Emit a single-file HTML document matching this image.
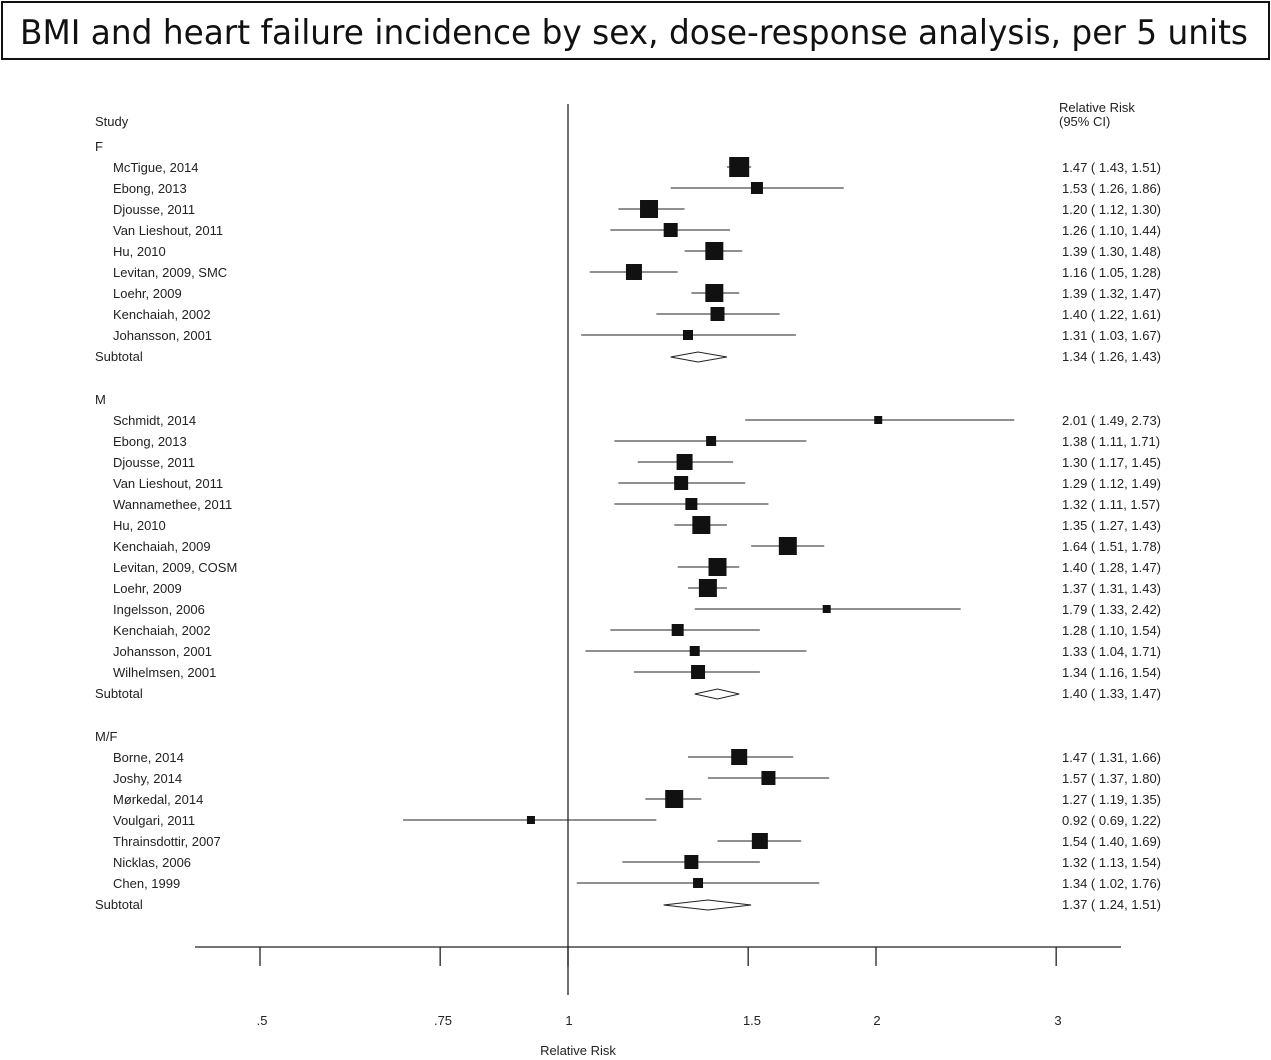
<!DOCTYPE html>
<html><head><meta charset="utf-8"><style>
body{margin:0;background:#fff;}
svg{display:block;font-family:"Liberation Sans",Arial,sans-serif;}
</style></head><body>
<svg id="s" width="1271" height="1060" viewBox="0 0 1271 1060">
<rect x="2" y="2" width="1267" height="57" fill="#fff" stroke="#111" stroke-width="2"/>
<text x="634" y="44" text-anchor="middle" font-family="DejaVu Sans,Verdana,sans-serif" font-size="34" textLength="1228" lengthAdjust="spacingAndGlyphs" fill="#111">BMI and heart failure incidence by sex, dose-response analysis, per 5 units</text>
<g id="plot" stroke="#222" fill="#111"></g>
<g font-size="13" fill="#222">
<text x="95" y="126">Study</text>
<text x="1059" y="112">Relative Risk</text>
<text x="1059" y="126">(95% CI)</text>
<text x="95" y="151">F</text>
<text x="113" y="172">McTigue, 2014</text><text x="1062" y="172">1.47 ( 1.43, 1.51)</text>
<text x="113" y="193">Ebong, 2013</text><text x="1062" y="193">1.53 ( 1.26, 1.86)</text>
<text x="113" y="214">Djousse, 2011</text><text x="1062" y="214">1.20 ( 1.12, 1.30)</text>
<text x="113" y="235">Van Lieshout, 2011</text><text x="1062" y="235">1.26 ( 1.10, 1.44)</text>
<text x="113" y="256">Hu, 2010</text><text x="1062" y="256">1.39 ( 1.30, 1.48)</text>
<text x="113" y="277">Levitan, 2009, SMC</text><text x="1062" y="277">1.16 ( 1.05, 1.28)</text>
<text x="113" y="298">Loehr, 2009</text><text x="1062" y="298">1.39 ( 1.32, 1.47)</text>
<text x="113" y="319">Kenchaiah, 2002</text><text x="1062" y="319">1.40 ( 1.22, 1.61)</text>
<text x="113" y="340">Johansson, 2001</text><text x="1062" y="340">1.31 ( 1.03, 1.67)</text>
<text x="95" y="361">Subtotal</text><text x="1062" y="361">1.34 ( 1.26, 1.43)</text>
<text x="95" y="404">M</text>
<text x="113" y="425">Schmidt, 2014</text><text x="1062" y="425">2.01 ( 1.49, 2.73)</text>
<text x="113" y="446">Ebong, 2013</text><text x="1062" y="446">1.38 ( 1.11, 1.71)</text>
<text x="113" y="467">Djousse, 2011</text><text x="1062" y="467">1.30 ( 1.17, 1.45)</text>
<text x="113" y="488">Van Lieshout, 2011</text><text x="1062" y="488">1.29 ( 1.12, 1.49)</text>
<text x="113" y="509">Wannamethee, 2011</text><text x="1062" y="509">1.32 ( 1.11, 1.57)</text>
<text x="113" y="530">Hu, 2010</text><text x="1062" y="530">1.35 ( 1.27, 1.43)</text>
<text x="113" y="551">Kenchaiah, 2009</text><text x="1062" y="551">1.64 ( 1.51, 1.78)</text>
<text x="113" y="572">Levitan, 2009, COSM</text><text x="1062" y="572">1.40 ( 1.28, 1.47)</text>
<text x="113" y="593">Loehr, 2009</text><text x="1062" y="593">1.37 ( 1.31, 1.43)</text>
<text x="113" y="614">Ingelsson, 2006</text><text x="1062" y="614">1.79 ( 1.33, 2.42)</text>
<text x="113" y="635">Kenchaiah, 2002</text><text x="1062" y="635">1.28 ( 1.10, 1.54)</text>
<text x="113" y="656">Johansson, 2001</text><text x="1062" y="656">1.33 ( 1.04, 1.71)</text>
<text x="113" y="677">Wilhelmsen, 2001</text><text x="1062" y="677">1.34 ( 1.16, 1.54)</text>
<text x="95" y="698">Subtotal</text><text x="1062" y="698">1.40 ( 1.33, 1.47)</text>
<text x="95" y="741">M/F</text>
<text x="113" y="762">Borne, 2014</text><text x="1062" y="762">1.47 ( 1.31, 1.66)</text>
<text x="113" y="783">Joshy, 2014</text><text x="1062" y="783">1.57 ( 1.37, 1.80)</text>
<text x="113" y="804">Mørkedal, 2014</text><text x="1062" y="804">1.27 ( 1.19, 1.35)</text>
<text x="113" y="825">Voulgari, 2011</text><text x="1062" y="825">0.92 ( 0.69, 1.22)</text>
<text x="113" y="846">Thrainsdottir, 2007</text><text x="1062" y="846">1.54 ( 1.40, 1.69)</text>
<text x="113" y="867">Nicklas, 2006</text><text x="1062" y="867">1.32 ( 1.13, 1.54)</text>
<text x="113" y="888">Chen, 1999</text><text x="1062" y="888">1.34 ( 1.02, 1.76)</text>
<text x="95" y="909">Subtotal</text><text x="1062" y="909">1.37 ( 1.24, 1.51)</text>
<g text-anchor="middle">
<text x="262" y="1025">.5</text><text x="443" y="1025">.75</text><text x="569" y="1025">1</text>
<text x="752" y="1025">1.5</text><text x="877" y="1025">2</text><text x="1058" y="1025">3</text>
<text x="578" y="1055">Relative Risk</text>
</g>
</g>
</svg>
<script>
var X=function(v){return 568+308*Math.log2(v);};
var g=document.getElementById('plot'),h='';
h+='<line x1="568" y1="104" x2="568" y2="995" stroke-width="1.3"/>';
h+='<line x1="195" y1="947" x2="1121" y2="947" stroke-width="1.3"/>';
[.5,.75,1,1.5,2,3].forEach(function(v){var x=X(v);h+='<line x1="'+x+'" y1="947" x2="'+x+'" y2="966" stroke-width="1.3"/>';});
var rows=[[167,1.47,1.43,1.51,10],[188,1.53,1.26,1.86,6],[209,1.20,1.12,1.30,9],[230,1.26,1.10,1.44,7],[251,1.39,1.30,1.48,9],[272,1.16,1.05,1.28,8],[293,1.39,1.32,1.47,9],[314,1.40,1.22,1.61,7],[335,1.31,1.03,1.67,5],
[420,2.01,1.49,2.73,4],[441,1.38,1.11,1.71,5],[462,1.30,1.17,1.45,8],[483,1.29,1.12,1.49,7],[504,1.32,1.11,1.57,6],[525,1.35,1.27,1.43,9],[546,1.64,1.51,1.78,9],[567,1.40,1.28,1.47,9],[588,1.37,1.31,1.43,9],[609,1.79,1.33,2.42,4],[630,1.28,1.10,1.54,6],[651,1.33,1.04,1.71,5],[672,1.34,1.16,1.54,7],
[757,1.47,1.31,1.66,8],[778,1.57,1.37,1.80,7],[799,1.27,1.19,1.35,9],[820,0.92,0.69,1.22,4],[841,1.54,1.40,1.69,8],[862,1.32,1.13,1.54,7],[883,1.34,1.02,1.76,5]];
rows.forEach(function(r){var y=r[0];h+='<line x1="'+X(r[2])+'" y1="'+y+'" x2="'+X(r[3])+'" y2="'+y+'" stroke-width="1"/>';
h+='<rect x="'+(X(r[1])-r[4])+'" y="'+(y-r[4])+'" width="'+2*r[4]+'" height="'+2*r[4]+'" stroke="none"/>';});
[[357,1.34,1.26,1.43],[694,1.40,1.33,1.47],[905,1.37,1.24,1.51]].forEach(function(d){var y=d[0];
h+='<polygon points="'+X(d[2])+','+y+' '+X(d[1])+','+(y-5)+' '+X(d[3])+','+y+' '+X(d[1])+','+(y+5)+'" fill="#fff" stroke-width="1"/>';});
g.innerHTML=h;
</script>
</body></html>
